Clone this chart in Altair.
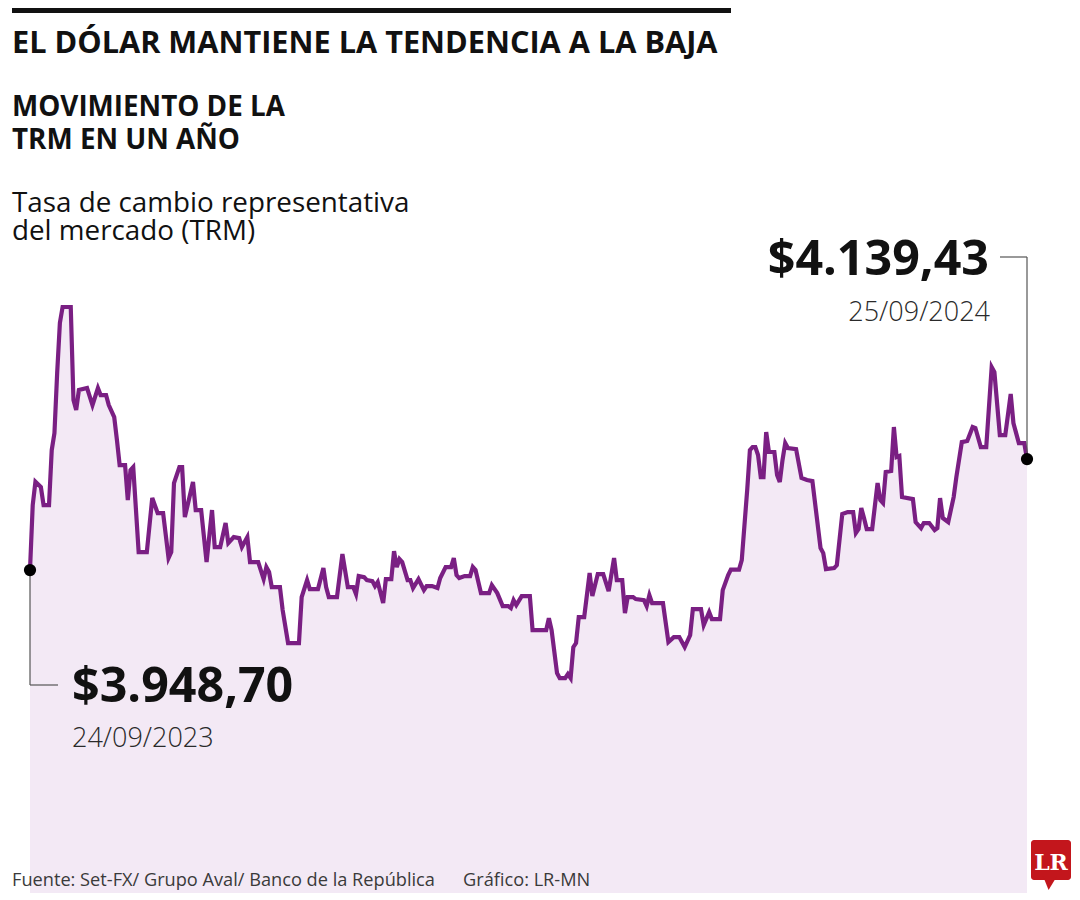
import altair as alt
import pandas as pd

# ---------------- data ----------------
START = "2023-09-24"
DAYS = [0, 1, 2, 4, 5, 7, 8, 9, 10, 11, 12, 15, 16, 17, 18, 21, 23, 25, 26, 28,
        29, 31, 32, 33, 35, 36, 37, 38, 40, 43, 45, 47, 49, 51, 52, 53, 55, 56, 57, 60,
        61, 63, 65, 67, 68, 70, 72, 73, 75, 77, 78, 80, 81, 84, 86, 87, 88, 89, 92, 93,
        95, 99, 100, 102, 103, 106, 108, 109, 110, 113, 115, 117, 119, 120, 121, 123, 124, 126, 127, 128,
        130, 131, 133, 134, 135, 136, 137, 139, 140, 141, 143, 145, 146, 148, 150, 151, 153, 155, 156, 157,
        158, 160, 162, 163, 164, 166, 169, 170, 172, 174, 176, 177, 178, 179, 181, 184, 185, 190, 191, 192,
        194, 195, 197, 198, 199, 200, 201, 202, 204, 206, 207, 209, 211, 213, 215, 216, 218, 219, 220, 222,
        223, 226, 227, 228, 229, 233, 235, 237, 239, 241, 243, 244, 247, 248, 250, 251, 254, 255, 257, 258,
        261, 262, 264, 265, 266, 267, 268, 269, 270, 271, 272, 274, 275, 276, 277, 278, 279, 282, 284, 286,
        288, 291, 292, 293, 296, 297, 299, 301, 303, 304, 305, 306, 307, 308, 310, 312, 313, 314, 315, 317,
        318, 319, 320, 321, 325, 326, 328, 329, 331, 333, 334, 335, 336, 338, 340, 341, 343, 345, 347, 348,
        350, 352, 354, 355, 357, 359, 361, 362, 364, 366, 367]
TRM = [3948.70, 4060.4, 4100.4, 4091.3, 4060.4, 4060.4, 4154.9, 4184.1, 4287.2, 4373.1,
       4400.6, 4400.6, 4240.8, 4223.6, 4258.0, 4261.4, 4232.2, 4261.4, 4249.4, 4249.4,
       4232.2, 4211.6, 4172.1, 4129.1, 4129.1, 4069.0, 4120.5, 4125.7, 3979.6, 3979.6,
       4072.4, 4046.6, 4046.6, 3969.3, 3979.6, 4098.2, 4125.7, 4125.7, 4039.8, 4099.9,
       4051.8, 4051.8, 3962.4, 4051.8, 3988.2, 3988.2, 4029.5, 3995.1, 4005.4, 4003.7,
       3988.2, 4005.4, 3962.4, 3962.4, 3933.2, 3953.9, 3945.3, 3919.5, 3919.5, 3880.0,
       3823.3, 3823.3, 3902.3, 3931.5, 3916.1, 3916.1, 3952.1, 3919.5, 3902.3, 3902.3,
       3976.2, 3919.5, 3919.5, 3907.5, 3938.4, 3936.7, 3931.5, 3929.8, 3921.2, 3928.1,
       3892.0, 3933.2, 3933.2, 3981.3, 3953.9, 3967.6, 3962.4, 3931.5, 3931.5, 3917.8,
       3933.2, 3914.3, 3921.2, 3921.2, 3917.8, 3935.0, 3953.9, 3953.9, 3969.3, 3940.1,
       3935.0, 3938.4, 3938.4, 3953.9, 3948.7, 3909.2, 3909.2, 3922.9, 3909.2, 3886.8,
       3886.8, 3883.4, 3897.1, 3888.6, 3904.0, 3904.0, 3845.6, 3845.6, 3866.2, 3845.6,
       3771.7, 3763.1, 3763.1, 3770.0, 3763.1, 3816.4, 3823.3, 3867.9, 3867.9, 3943.5,
       3904.0, 3941.8, 3941.8, 3912.6, 3969.3, 3931.5, 3931.5, 3874.8, 3902.3, 3902.3,
       3898.9, 3897.1, 3886.8, 3905.7, 3892.0, 3892.0, 3825.0, 3833.6, 3833.6, 3816.4,
       3837.0, 3881.7, 3881.7, 3854.2, 3876.5, 3864.5, 3864.5, 3914.3, 3940.1, 3949.6,
       3949.6, 3965.9, 4086.2, 4154.9, 4160.0, 4160.0, 4146.3, 4108.5, 4108.5, 4185.8,
       4151.5, 4151.5, 4112.0, 4099.9, 4137.7, 4166.9, 4158.3, 4156.6, 4106.8, 4103.3,
       4101.6, 3986.5, 3977.9, 3950.4, 3952.1, 3957.3, 4044.9, 4048.4, 4048.4, 4012.3,
       4019.2, 4055.2, 4038.1, 4019.2, 4019.2, 4098.2, 4069.0, 4063.8, 4117.1, 4118.8,
       4194.4, 4142.9, 4144.6, 4074.1, 4070.7, 4031.2, 4020.9, 4029.5, 4029.5, 4017.4,
       4020.9, 4072.4, 4038.1, 4031.2, 4074.1, 4108.5, 4168.6, 4170.4, 4194.4, 4192.7,
       4160.0, 4160.0, 4297.5, 4288.9, 4180.7, 4180.7, 4251.1, 4201.3, 4166.9, 4166.9,
       4139.43]

TITLE = "EL DÓLAR MANTIENE LA TENDENCIA A LA BAJA"
SUBTITLE = ["MOVIMIENTO DE LA", "TRM EN UN AÑO"]
DESCRIPTION = ["Tasa de cambio representativa", "del mercado (TRM)"]
SOURCE = "Fuente: Set-FX/ Grupo Aval/ Banco de la República"
CREDIT = "Gráfico: LR-MN"
LOGO = "LR"

Y_MIN, Y_MAX = 3394.0, 4476.2

# ---------------- frames ----------------
dates = pd.to_datetime(START) + pd.to_timedelta(DAYS, unit="D")
df = pd.DataFrame({"fecha": dates, "trm": TRM})


def fmt_money(v):
    s = f"{v:,.2f}"
    return "$" + s.replace(",", "X").replace(".", ",").replace("X", ".")


ends = df.iloc[[0, -1]].copy()
ends["valor"] = ends["trm"].map(fmt_money)
ends["dia"] = ends["fecha"].dt.strftime("%d/%m/%Y")
first = ends.iloc[[0]]
last = ends.iloc[[1]]

one = pd.DataFrame({"k": [0]})

PURPLE = "#7A1F83"
FILL = "#F3E9F5"
SANS = "Open Sans"

xs = alt.X("fecha:T", axis=None, scale=alt.Scale(nice=False))
ys = alt.Y("trm:Q", axis=None, scale=alt.Scale(domain=[Y_MIN, Y_MAX], nice=False, zero=False))

base = alt.Chart(df).encode(x=xs, y=ys)
area = base.mark_area(color=FILL).encode(y2=alt.datum(Y_MIN))
line = base.mark_line(color=PURPLE, strokeWidth=4.2)

rule_style = dict(color="#555555", strokeWidth=1.2)
lead0v = alt.Chart(first).mark_rule(**rule_style).encode(x=xs, y=ys, y2=alt.value(422))
lead0h = alt.Chart(first).mark_rule(**rule_style).encode(x=xs, x2=alt.value(28), y=alt.value(422))
lead1v = alt.Chart(last).mark_rule(**rule_style).encode(x=xs, y=ys, y2=alt.value(-6))
lead1h = alt.Chart(last).mark_rule(**rule_style).encode(x=xs, x2=alt.value(970), y=alt.value(-6))

dots = alt.Chart(ends).mark_circle(size=150, color="black", opacity=1).encode(x=xs, y=ys)

VAL_SIZE = 48.4
DATE_SIZE = 27
val0 = alt.Chart(first).mark_text(align="left", baseline="alphabetic", font=SANS, fontSize=VAL_SIZE,
                                  fontWeight="bold", color="#111111").encode(
    x=alt.value(42), y=alt.value(439), text="valor:N")
day0 = alt.Chart(first).mark_text(align="left", baseline="alphabetic", font=SANS, fontSize=DATE_SIZE,
                                  fontWeight=300, color="#2a2a2a").encode(
    x=alt.value(42), y=alt.value(484), text="dia:N")
val1 = alt.Chart(last).mark_text(align="right", baseline="alphabetic", font=SANS, fontSize=VAL_SIZE,
                                 fontWeight="bold", color="#111111").encode(
    x=alt.value(959), y=alt.value(12), text="valor:N")
day1 = alt.Chart(last).mark_text(align="right", baseline="alphabetic", font=SANS, fontSize=DATE_SIZE,
                                 fontWeight=300, color="#2a2a2a").encode(
    x=alt.value(960), y=alt.value(58), text="dia:N")


def label(txt, x, y, size, weight="normal", color="#111111", font=SANS, align="left", lh=None):
    kw = {}
    if lh is not None:
        kw["lineHeight"] = lh
    return alt.Chart(one).mark_text(align=align, baseline="alphabetic", font=font, fontSize=size,
                                    fontWeight=weight, color=color, **kw).encode(
        x=alt.value(x), y=alt.value(y), text=alt.value(txt))


bar = alt.Chart(one).mark_rect(color="#111111").encode(
    x=alt.value(-18), x2=alt.value(701), y=alt.value(-255), y2=alt.value(-250))

texts = [
    label(TITLE, -18, -210, 30.7, "bold"),
    label(SUBTITLE, -18, -147, 27.8, "bold", lh=33),
    label(DESCRIPTION, -18, -51, 27.8, lh=28),
    label(SOURCE, -18, 623, 18.2, color="#3a3a3a"),
    label(CREDIT, 433, 623, 18.2, color="#3a3a3a"),
]

logo_box = alt.Chart(one).mark_rect(color="#C3161C", cornerRadius=3).encode(
    x=alt.value(1001), x2=alt.value(1041), y=alt.value(577), y2=alt.value(617))
logo_tail = alt.Chart(one).mark_point(shape="M -1 -1 L 1 -1 L -0.2 1 Z", filled=True, size=200,
                                      color="#C3161C", opacity=1).encode(
    x=alt.value(1020), y=alt.value(620))
logo_text = label(LOGO, 1021, 607, 22, "bold", "white", "DejaVu Serif", "center")

chart = alt.layer(
    area, line, lead0v, lead0h, lead1v, lead1h, dots, val0, day0, val1, day1, bar,
    *texts, logo_box, logo_tail, logo_text
).properties(
    width=997, height=630,
    padding={"left": 22, "top": 255, "right": 45, "bottom": 0},
    autosize=alt.AutoSizeParams(type="none"),
).configure_view(stroke=None)

chart.save("out.html", embed_options={"renderer": "svg", "actions": False})
